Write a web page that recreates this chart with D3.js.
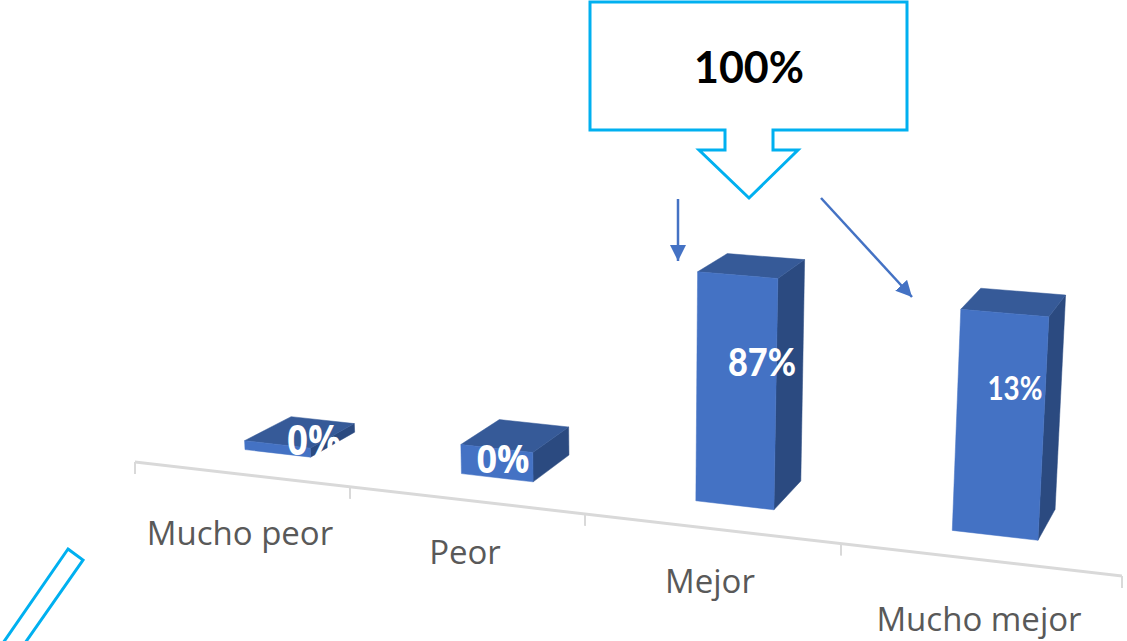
<!DOCTYPE html>
<html><head><meta charset="utf-8">
<script src="https://cdn.jsdelivr.net/npm/d3@7"></script>
<style>html,body{margin:0;padding:0;background:#fff;overflow:hidden}svg{display:block}</style>
</head><body><svg id="c" width="1127" height="641"></svg>
<script>
// --- data ---
const categories = ["Mucho peor", "Peor", "Mejor", "Mucho mejor"];
const valueLabels = ["0%", "0%", "87%", "13%"];
// Height each column is actually drawn at (the picture's heights do not follow its labels)
const drawnHeights = [3.6, 11.4, 87, 81.3];
const calloutLabel = "100%";

// --- scales ---
const svg = d3.select("#c");
const BLUE = "#4472C4", TOP = "#365A98", SIDE = "#2B4A80", CYAN = "#00B0F0", GREY = "#D9D9D9";
const tickIdx = d3.range(categories.length + 1);
const x = d3.scaleLinear().domain(tickIdx).range([135, 350, 585, 841, 1122]); // perspective spacing
const y = d3.scaleLinear().domain([0, 87]).range([0, 229]);
const slope = 114 / 987, axisY0 = 462 - 135 * slope;
const floorY = sx => axisY0 + sx * slope;

// --- axis (vertical ticks on a slanted baseline) ---
const axis = d3.axisBottom(x).tickValues(tickIdx).tickFormat("").tickSize(12).tickSizeOuter(0).offset(0);
const gAxis = svg.append("g")
  .attr("transform", `translate(0,${axisY0}) skewY(${Math.atan(slope) * 180 / Math.PI})`)
  .call(axis);
gAxis.selectAll("path").attr("stroke", GREY).attr("stroke-width", 3).attr("fill", "none");
gAxis.selectAll("line").attr("stroke", GREY).attr("stroke-width", 2);

// --- perspective helpers ---
const pt = (sx, h) => {                    // front-face point
  const hp = y(h) * (1 + 0.00013 * (sx - 696));
  return [sx + (sx - 632) * 0.00012 * hp, floorY(sx) - 26 - hp];
};
const back = (p, hp) => [p[0] + 46.5 - 0.037 * (p[0] - 244), p[1] - 25 - (p[0] - 312) * 0.0083 + 0.0437 * hp];

const bars = categories.map((c, i) => {
  const u = i + 0.507 - 0.037 * i;
  const xl = x(u), xr = x(u + 0.305), h = drawnHeights[i], hp = y(h);
  const BL = pt(xl, 0), BR = pt(xr, 0), TL = pt(xl, h), TR = pt(xr, h);
  return { c, BL, BR, TL, TR, bTL: back(TL, hp), bTR: back(TR, hp), bBR: back(BR, 0) };
});
const line = d3.line();
const poly = (sel, key, col) => sel.append("path").attr("fill", col).attr("stroke", col).attr("stroke-width", .5)
  .attr("d", d => line(key(d)) + "Z");
const gb = svg.selectAll("g.bar").data(bars).join("g").attr("class", "bar")
  .attr("transform", (d, i) => i === 0 ? "translate(1,1)" : i === 1 ? "translate(1,0)" : null);
poly(gb, d => [d.TR, d.bTR, d.bBR, d.BR], SIDE);
poly(gb, d => [d.TL, d.bTL, d.bTR, d.TR], TOP);
poly(gb, d => [d.TL, d.TR, d.BR, d.BL], BLUE);

// --- value labels (x, baseline, size, family, weight, ink width) ---
const vLabelAt = [[314, 455, 42, "Open Sans", 700, 54], [503, 473, 40, "Open Sans", 700, 53],
                  [762, 376, 38, "Lato", 900, 68], [1015, 400, 32, "Lato", 700, 55]];
svg.selectAll("text.v").data(valueLabels).join("text").attr("class", "v")
  .attr("x", (d, i) => vLabelAt[i][0] - vLabelAt[i][5] / 2).attr("y", (d, i) => vLabelAt[i][1])
  .attr("fill", "#fff")
  .attr("textLength", (d, i) => vLabelAt[i][5]).attr("lengthAdjust", "spacingAndGlyphs")
  .attr("font-size", (d, i) => vLabelAt[i][2]).attr("font-family", (d, i) => vLabelAt[i][3])
  .attr("font-weight", (d, i) => vLabelAt[i][4]).text(d => d);

// --- category labels ---
const catBase = [545, 564, 593, 631], catMid = [240, 465, 710, 979];
svg.selectAll("text.c").data(categories).join("text").attr("class", "c")
  .attr("x", (d, i) => catMid[i]).attr("y", (d, i) => catBase[i])
  .attr("text-anchor", "middle").attr("fill", "#595959")
  .attr("font-family", "'Open Sans'").attr("font-size", 33).text(d => d);

// --- annotations ---
const callout = [[590,2],[907,2],[907,130],[773,130],[773,150],[798,150],[749,198],[699,150],[725,150],[725,130],[590,130]];
svg.append("path").attr("d", line(callout) + "Z").attr("fill", "#fff").attr("stroke", CYAN).attr("stroke-width", 3);
svg.append("text").attr("x", 749).attr("y", 83).attr("text-anchor", "middle").attr("font-family", "Lato")
  .attr("font-weight", 700).attr("font-size", 43).attr("fill", "#000").text(calloutLabel);

svg.append("path").attr("d", line([[68,549],[83,560],[25,643],[3,643]]) + "Z").attr("fill", "none").attr("stroke", CYAN).attr("stroke-width", 3);

const defs = svg.append("defs");
defs.append("marker").attr("id", "ah").attr("viewBox", "0 0 10 10").attr("refX", 10).attr("refY", 5)
  .attr("markerWidth", 16).attr("markerHeight", 16).attr("markerUnits", "userSpaceOnUse").attr("orient", "auto")
  .append("path").attr("d", "M0,0L10,5L0,10Z").attr("fill", BLUE);
[[[678,199],[678,261]], [[821,198],[912,297]]].forEach(a =>
  svg.append("path").attr("d", line(a)).attr("stroke", BLUE).attr("stroke-width", 2.5).attr("fill", "none").attr("marker-end", "url(#ah)"));
</script></body></html>
